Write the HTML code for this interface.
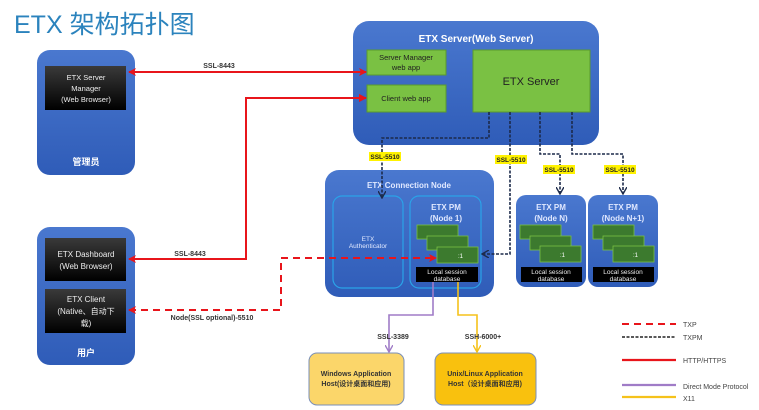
<!DOCTYPE html>
<html><head><meta charset="utf-8"><style>
body{margin:0;background:#fff;}
svg{display:block;font-family:"Liberation Sans","Noto Sans CJK SC",sans-serif;}
</style></head><body>
<svg width="759" height="410" viewBox="0 0 759 410" xmlns="http://www.w3.org/2000/svg">
<defs>
<linearGradient id="bg" x1="0" y1="0" x2="0" y2="1"><stop offset="0" stop-color="#4a78cf"/><stop offset="1" stop-color="#2f5cb8"/></linearGradient>
<linearGradient id="blk" x1="0" y1="0" x2="0" y2="1"><stop offset="0" stop-color="#3a3a3a"/><stop offset="1" stop-color="#000"/></linearGradient>
<marker id="ar" markerWidth="8" markerHeight="8" refX="7" refY="4" orient="auto" markerUnits="userSpaceOnUse"><path d="M0,0 L8,4 L0,8 L2,4z" fill="#e8151b"/></marker>
<marker id="arl" markerWidth="8" markerHeight="8" refX="1" refY="4" orient="auto" markerUnits="userSpaceOnUse"><path d="M8,0 L0,4 L8,8 L6,4z" fill="#e8151b"/></marker>
<marker id="ak" markerWidth="8" markerHeight="8" refX="7" refY="4" orient="auto" markerUnits="userSpaceOnUse"><path d="M0,0 L7,4 L0,8" fill="none" stroke="#1c2a4a" stroke-width="1.4"/></marker>
<marker id="ap" markerWidth="8" markerHeight="8" refX="7" refY="4" orient="auto" markerUnits="userSpaceOnUse"><path d="M0,0 L7,4 L0,8" fill="none" stroke="#a07cc7" stroke-width="1.4"/></marker>
<marker id="ay" markerWidth="8" markerHeight="8" refX="7" refY="4" orient="auto" markerUnits="userSpaceOnUse"><path d="M0,0 L7,4 L0,8" fill="none" stroke="#f5c21b" stroke-width="1.4"/></marker>
</defs>

<text x="14" y="33" font-size="25" fill="#2b83bd">ETX 架构拓扑图</text>

<rect x="37" y="50" width="98" height="125" rx="13" fill="url(#bg)"/>
<rect x="45" y="66" width="81" height="44" fill="url(#blk)"/>
<text font-size="7.5" fill="#eee" text-anchor="middle"><tspan x="86" y="80">ETX Server</tspan><tspan x="86" y="91">Manager</tspan><tspan x="86" y="102">(Web Browser)</tspan></text>
<text x="86" y="165" font-size="9" font-weight="bold" fill="#fff" text-anchor="middle">管理员</text>

<rect x="37" y="227" width="98" height="138" rx="13" fill="url(#bg)"/>
<rect x="45" y="238" width="81" height="43" fill="url(#blk)"/>
<text font-size="8" fill="#eee" text-anchor="middle"><tspan x="86" y="257">ETX Dashboard</tspan><tspan x="86" y="269">(Web Browser)</tspan></text>
<rect x="45" y="289" width="81" height="44" fill="url(#blk)"/>
<text font-size="8" fill="#eee" text-anchor="middle"><tspan x="86" y="302">ETX  Client</tspan><tspan x="86" y="314">(Native、自动下</tspan><tspan x="86" y="326">载)</tspan></text>
<text x="86" y="356" font-size="9" font-weight="bold" fill="#fff" text-anchor="middle">用户</text>

<rect x="353" y="21" width="246" height="124" rx="16" fill="url(#bg)"/>
<text x="476" y="42" font-size="10" font-weight="bold" fill="#fff" text-anchor="middle">ETX Server(Web Server)</text>
<rect x="367" y="50" width="79" height="25" fill="#7ac143" stroke="#5a9a2e"/>
<text font-size="7.5" fill="#222" text-anchor="middle"><tspan x="406" y="60">Server Manager</tspan><tspan x="406" y="70">web app</tspan></text>
<rect x="367" y="85" width="79" height="27" fill="#7ac143" stroke="#5a9a2e"/>
<text x="406" y="101" font-size="7.5" fill="#222" text-anchor="middle">Client web app</text>
<rect x="473" y="50" width="117" height="62" fill="#7ac143" stroke="#5a9a2e"/>
<text x="531" y="85" font-size="11" fill="#222" text-anchor="middle">ETX Server</text>

<rect x="325" y="170" width="169" height="127" rx="14" fill="url(#bg)"/>
<text x="409" y="188" font-size="8" font-weight="bold" fill="#e0e8ff" text-anchor="middle">ETX Connection Node</text>
<rect x="333" y="196" width="70" height="92" rx="9" fill="none" stroke="#2aa3e8" stroke-width="1.2"/>
<text font-size="6.5" fill="#e0e8ff" text-anchor="middle"><tspan x="368" y="241">ETX</tspan><tspan x="368" y="248">Authenticator</tspan></text>
<rect x="410" y="196" width="71" height="92" rx="9" fill="none" stroke="#2aa3e8" stroke-width="1.2"/>
<text font-size="8" font-weight="bold" fill="#e0e8ff" text-anchor="middle"><tspan x="446" y="210">ETX PM</tspan><tspan x="446" y="221">(Node 1)</tspan></text>
<g fill="#3c7a2e" stroke="#7ac143" stroke-width=".8">
<rect x="417" y="225" width="41" height="14"/><rect x="427" y="236" width="41" height="14"/><rect x="437" y="247" width="41" height="16"/></g>
<text x="458" y="258" font-size="6" fill="#fff">:1</text>
<rect x="416" y="267" width="62" height="15" fill="#000"/>
<text font-size="6.5" fill="#eee" text-anchor="middle"><tspan x="447" y="274">Local session</tspan><tspan x="447" y="281">database</tspan></text>

<g>
<rect x="516" y="195" width="70" height="92" rx="10" fill="url(#bg)"/>
<text font-size="8" font-weight="bold" fill="#e0e8ff" text-anchor="middle"><tspan x="551" y="210">ETX PM</tspan><tspan x="551" y="221">(Node N)</tspan></text>
<g fill="#3c7a2e" stroke="#7ac143" stroke-width=".8"><rect x="520" y="225" width="41" height="14"/><rect x="530" y="236" width="41" height="14"/><rect x="540" y="246" width="41" height="16"/></g>
<text x="560" y="257" font-size="6" fill="#fff">:1</text>
<rect x="521" y="267" width="61" height="15" fill="#000"/>
<text font-size="6.5" fill="#eee" text-anchor="middle"><tspan x="551" y="274">Local session</tspan><tspan x="551" y="281">database</tspan></text>
</g>
<g>
<rect x="588" y="195" width="70" height="92" rx="10" fill="url(#bg)"/>
<text font-size="8" font-weight="bold" fill="#e0e8ff" text-anchor="middle"><tspan x="623" y="210">ETX PM</tspan><tspan x="623" y="221">(Node N+1)</tspan></text>
<g fill="#3c7a2e" stroke="#7ac143" stroke-width=".8"><rect x="593" y="225" width="41" height="14"/><rect x="603" y="236" width="41" height="14"/><rect x="613" y="246" width="41" height="16"/></g>
<text x="633" y="257" font-size="6" fill="#fff">:1</text>
<rect x="593" y="267" width="61" height="15" fill="#000"/>
<text font-size="6.5" fill="#eee" text-anchor="middle"><tspan x="623" y="274">Local session</tspan><tspan x="623" y="281">database</tspan></text>
</g>

<rect x="309" y="353" width="95" height="52" rx="8" fill="#fbd66a" stroke="#7a8fb8"/>
<text font-size="7" font-weight="bold" fill="#333" text-anchor="middle"><tspan x="356" y="376">Windows Application</tspan><tspan x="356" y="386">Host(设计桌面和应用)</tspan></text>
<rect x="435" y="353" width="101" height="52" rx="8" fill="#f9c10e" stroke="#7a8fb8"/>
<text font-size="7" font-weight="bold" fill="#333" text-anchor="middle"><tspan x="485" y="376">Unix/Linux Application</tspan><tspan x="485" y="386">Host（设计桌面和应用)</tspan></text>

<line x1="129" y1="72" x2="366" y2="72" stroke="#e8151b" stroke-width="2" marker-start="url(#arl)" marker-end="url(#ar)"/>
<text x="219" y="68" font-size="7" font-weight="bold" fill="#333" text-anchor="middle">SSL-8443</text>
<polyline points="366,98 246,98 246,259 129,259" fill="none" stroke="#e8151b" stroke-width="2" marker-start="url(#arl)" marker-end="url(#ar)"/>
<path d="M359,94 L366,98 L359,102" fill="#e8151b"/>
<text x="190" y="256" font-size="7" font-weight="bold" fill="#333" text-anchor="middle">SSL-8443</text>

<polyline points="129,310 281,310 281,258 436,258" fill="none" stroke="#e8151b" stroke-width="2" stroke-dasharray="7,5" marker-start="url(#arl)" marker-end="url(#ar)"/>
<text x="212" y="320" font-size="7" font-weight="bold" fill="#333" text-anchor="middle">Node(SSL optional)-5510</text>

<g fill="none" stroke="#1c2a4a" stroke-width="1.6" stroke-dasharray="3,1.5">
<polyline points="489,112 489,138 382,138 382,198" marker-end="url(#ak)"/>
<polyline points="510,112 510,254 482,254" marker-end="url(#ak)"/>
<polyline points="540,112 540,154 560,154 560,194" marker-end="url(#ak)"/>
<polyline points="572,112 572,154 623,154 623,194" marker-end="url(#ak)"/>
</g>
<g font-size="6.5" font-weight="bold" fill="#222">
<rect x="369" y="152" width="32" height="9" fill="#fff200"/><text x="385" y="159" text-anchor="middle">SSL-5510</text>
<rect x="495" y="155" width="32" height="9" fill="#fff200"/><text x="511" y="162" text-anchor="middle">SSL-5510</text>
<rect x="543" y="165" width="32" height="9" fill="#fff200"/><text x="559" y="172" text-anchor="middle">SSL-5510</text>
<rect x="604" y="165" width="32" height="9" fill="#fff200"/><text x="620" y="172" text-anchor="middle">SSL-5510</text>
</g>

<polyline points="433,282 433,315 389,315 389,352" fill="none" stroke="#a07cc7" stroke-width="1.6" marker-end="url(#ap)"/>
<polyline points="458,282 458,315 477,315 477,352" fill="none" stroke="#f5c21b" stroke-width="1.6" marker-end="url(#ay)"/>
<text x="393" y="339" font-size="7" font-weight="bold" fill="#333" text-anchor="middle">SSL-3389</text>
<text x="483" y="339" font-size="7" font-weight="bold" fill="#333" text-anchor="middle">SSH-6000+</text>

<line x1="622" y1="324" x2="676" y2="324" stroke="#e8151b" stroke-width="2" stroke-dasharray="7,5"/>
<line x1="622" y1="337" x2="676" y2="337" stroke="#222" stroke-width="1.5" stroke-dasharray="3,1.5"/>
<line x1="622" y1="360" x2="676" y2="360" stroke="#e8151b" stroke-width="2.2"/>
<line x1="622" y1="385" x2="676" y2="385" stroke="#a07cc7" stroke-width="2.2"/>
<line x1="622" y1="397" x2="676" y2="397" stroke="#f5c21b" stroke-width="2.2"/>
<g font-size="7" fill="#444">
<text x="683" y="327">TXP</text><text x="683" y="340">TXPM</text><text x="683" y="363">HTTP/HTTPS</text><text x="683" y="389">Direct Mode Protocol</text><text x="683" y="401">X11</text>
</g>
</svg>
</body></html>
